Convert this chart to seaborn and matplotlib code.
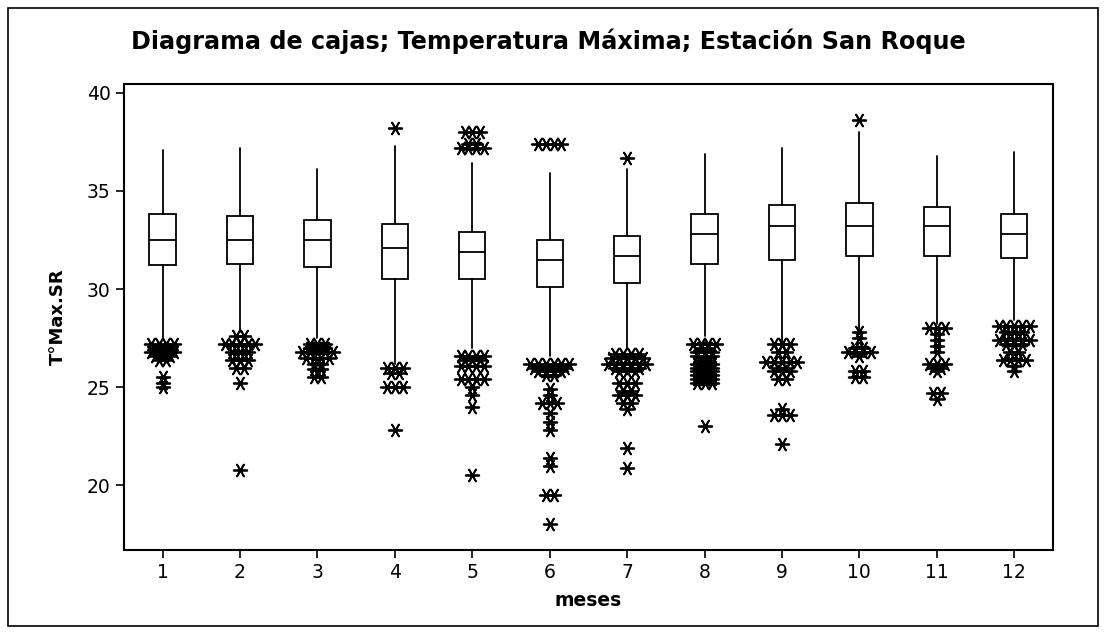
import numpy as np
import pandas as pd
import matplotlib
matplotlib.use("Agg")
import matplotlib.pyplot as plt
import matplotlib.patches as mpatches
import seaborn as sns

# ── Data (box statistics per month) ───
meses = [1, 2, 3, 4, 5, 6, 7, 8, 9, 10, 11, 12]
q1 = [31.2, 31.3, 31.1, 30.5, 30.5, 30.1, 30.3, 31.3, 31.5, 31.7, 31.7, 31.6]
mediana = [32.5, 32.5, 32.5, 32.1, 31.9, 31.5, 31.7, 32.8, 33.2, 33.2, 33.2, 32.8]
q3 = [33.8, 33.7, 33.5, 33.3, 32.9, 32.5, 32.7, 33.8, 34.3, 34.4, 34.2, 33.8]
bigote_inf = [27.5, 27.8, 27.5, 26.2, 27.0, 26.6, 27.0, 27.6, 27.2, 27.9, 28.2, 28.4]
bigote_sup = [37.1, 37.2, 36.1, 37.3, 36.4, 35.9, 36.1, 36.9, 37.2, 38.0, 36.8, 37.0]

# outliers (atípicos) per month
atip_1 = [27.2]*4 + [27.0]*3 + [26.8]*4 + [26.6]*3 + [26.4]*2 + [25.5, 25.2, 25.0]
atip_2 = [27.6]*2 + [27.2]*5 + [26.8]*3 + [26.4]*3 + [26.0]*2 + [25.2, 20.8]
atip_3 = [27.2]*3 + [27.0]*3 + [26.8]*5 + [26.5]*4 + [26.2]*2 + [25.9]*2 + [25.5]*2
atip_4 = [38.2] + [26.0]*3 + [25.7]*2 + [25.0]*3 + [22.8]
atip_5 = ([38.0]*3 + [37.4]*2 + [37.2]*4 + [26.6]*4 + [26.4]*3 + [26.1]*4
          + [25.4]*4 + [25.0] + [24.6] + [24.0] + [20.5])
atip_6 = ([37.4]*4 + [26.2]*6 + [26.0]*5 + [25.8]*4 + [25.6]*2 + [24.9, 24.6]
          + [24.2]*3 + [23.7, 23.2, 22.8, 21.4, 21.0] + [19.5]*2 + [18.0])
atip_7 = ([36.7] + [26.7]*4 + [26.5]*5 + [26.2]*6 + [26.0]*4 + [25.8]*3
          + [25.2]*3 + [24.8]*2 + [24.6]*3 + [24.2]*2 + [23.9, 21.9, 20.9])
atip_8 = ([27.2]*4 + [27.0]*2 + [26.8]*3 + [26.6]*3 + [26.4]*2 + [26.2]*3
          + [26.0]*3 + [25.8]*3 + [25.6]*3 + [25.4]*3 + [25.2]*3 + [23.0])
atip_9 = [27.2]*3 + [26.8]*2 + [26.3]*5 + [26.0]*2 + [25.8]*3 + [25.4]*2 + [23.9] + [23.6]*3 + [22.1]
atip_10 = [38.6, 27.8, 27.5] + [27.0]*2 + [26.8]*4 + [26.6] + [25.8]*2 + [25.5]*2
atip_11 = [28.0]*3 + [27.7, 27.4, 27.1, 26.8] + [26.2]*3 + [26.0]*2 + [25.8] + [24.7]*2 + [24.4]
atip_12 = [28.1]*5 + [27.8]*3 + [27.4]*5 + [27.2]*3 + [26.8]*2 + [26.4]*4 + [26.1, 25.8]
atipicos = [atip_1, atip_2, atip_3, atip_4, atip_5, atip_6,
            atip_7, atip_8, atip_9, atip_10, atip_11, atip_12]

# ── Style ────────────────────────────────────────────────────
sns.set_theme(style="ticks")
plt.rcParams['font.family'] = ['DejaVu Sans']
plt.rcParams['text.color'] = 'black'
plt.rcParams['axes.labelcolor'] = 'black'
plt.rcParams['xtick.color'] = 'black'
plt.rcParams['ytick.color'] = 'black'

fig = plt.figure(figsize=(11.06, 6.34), dpi=100)
ax = fig.add_axes([0.112, 0.1325, 0.840, 0.735])

# boxes
stats = []
for i, m in enumerate(meses):
    stats.append(dict(med=mediana[i], q1=q1[i], q3=q3[i],
                      whislo=bigote_inf[i], whishi=bigote_sup[i], fliers=[]))
ax.bxp(stats, positions=meses, widths=0.34, showcaps=False, showfliers=False,
       patch_artist=True,
       boxprops=dict(facecolor='white', edgecolor='black', linewidth=1.3),
       medianprops=dict(color='black', linewidth=1.3),
       whiskerprops=dict(color='black', linewidth=1.3))

# outliers: tied values spread side by side (as Minitab does)
rows = []
for m, vals in zip(meses, atipicos):
    s = pd.Series(vals)
    for v, n in s.value_counts(sort=False).items():
        for k in range(n):
            rows.append({'mes': m + (k - (n - 1) / 2) * 0.1, 'valor': v})
df_out = pd.DataFrame(rows)
sns.scatterplot(data=df_out, x='mes', y='valor', ax=ax, marker=(6, 2, 90),
                s=95, color='black', linewidth=1.3, edgecolor='black', zorder=5)

ax.set_xlim(0.5, 12.5)
ax.set_ylim(16.7, 40.45)
ax.set_xticks(meses)
ax.set_xticklabels([str(m) for m in meses])
ax.set_yticks([20, 25, 30, 35, 40])
ax.tick_params(axis='both', labelsize=13.5, length=6, width=1.2, color='black',
               direction='out')
for sp in ax.spines.values():
    sp.set_linewidth(1.5)
    sp.set_color('black')
    sp.set_visible(True)

ax.set_xlabel("meses", fontsize=13.5, fontweight='bold', labelpad=6)
ax.set_ylabel("T°Max.SR", fontsize=13, fontweight='bold', labelpad=14)
fig.text(0.496, 0.935, "Diagrama de cajas; Temperatura Máxima; Estación San Roque",
         ha='center', va='center', fontsize=17.2, fontweight='bold')

# outer frame of the graph window
fig.patches.append(mpatches.Rectangle((0.007, 0.012), 0.986, 0.976,
                                      transform=fig.transFigure, fill=False,
                                      edgecolor='black', linewidth=1.2))

fig.savefig("out.png", dpi=100)
